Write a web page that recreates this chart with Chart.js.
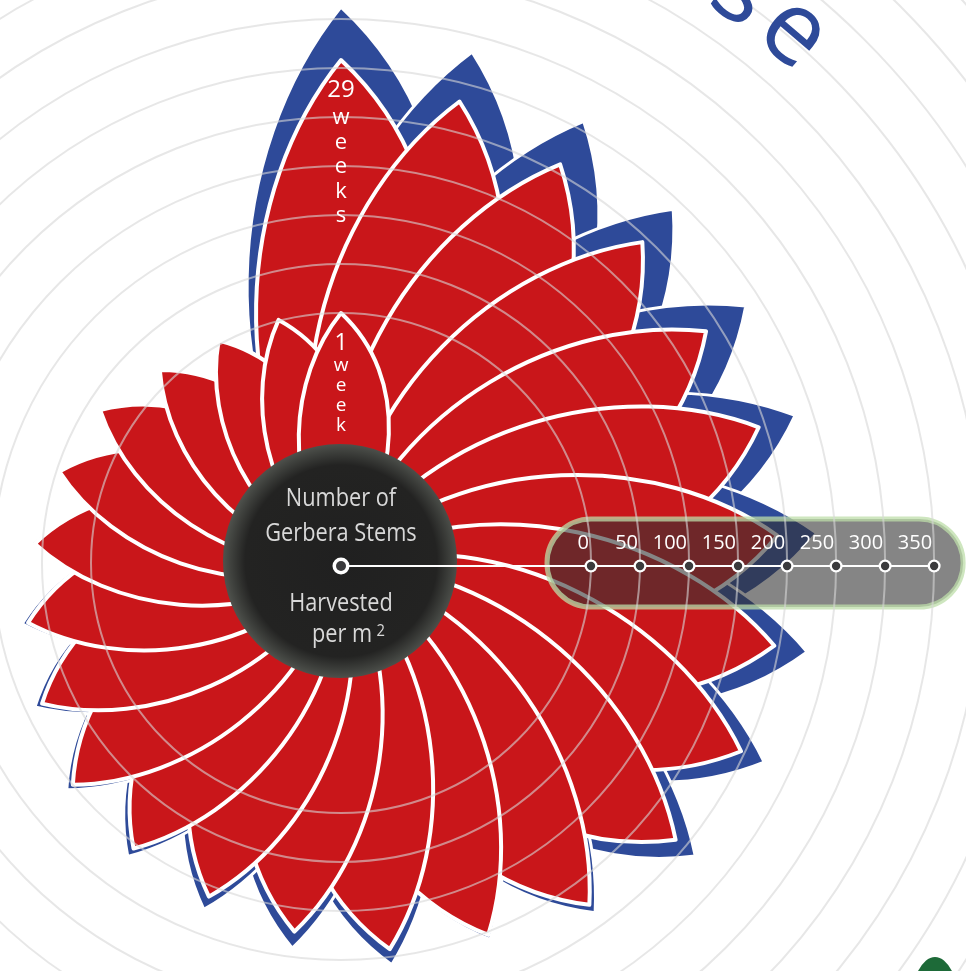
<!DOCTYPE html>
<html>
<head>
<meta charset="utf-8">
<script src="https://cdn.jsdelivr.net/npm/chart.js@4.4.1/dist/chart.umd.min.js"></script>
<style>
  html, body { margin: 0; padding: 0; background: #fff; width: 966px; height: 971px; overflow: hidden; }
  #wrap { position: absolute; left: -559px; top: -337px; width: 1800px; height: 1800px; }
</style>
</head>
<body>
<div id="wrap"><canvas id="flower" width="1800" height="1800"></canvas></div>
<script>
/* Gerbera stems flower: one petal per harvest week, blue petals sit behind the red ones */
const weeks = [1, 2, 3, 4, 5, 6, 7, 8, 9, 10, 11, 12, 13, 14, 15, 16, 17, 18, 19, 20, 21, 22, 23, 25, 27, 29];
const stemsRed = [0, 1, 4, 15, 36, 47, 58, 70, 82, 100, 105, 111, 124, 142, 153, 176, 188, 196, 195, 191, 193, 186, 194, 209, 231, 258];
const stemsBlue = [0, 2, 5, 17, 39, 50, 62, 76, 90, 108, 115, 125, 141, 158, 158, 186, 214, 222, 229, 231, 232, 234, 240, 259, 283, 312];
const rulerTicks = [0, 50, 100, 150, 200, 250, 300, 350];
const centreText = ['Number of', 'Gerbera Stems', 'Harvested', 'per m'];
const titleWord = 'Increase';

const RED = '#c9161a';
const BLUE = '#2e4a99';
const STEP = 360 / (weeks.length - 1);   // first and last week share the top

// weeks run anticlockwise, Chart.js lays arcs clockwise -> feed them reversed
const rev = (a) => a.slice().reverse();

// leaf shape from the hub to the tip, a little fuller on the clockwise side
function petal(ctx, cx, cy, ang, len) {
  const ux = Math.cos(ang), uy = Math.sin(ang);
  const nx = -uy, ny = ux;
  const p = (a, b) => [cx + (ux * a + nx * b) * len, cy + (uy * a + ny * b) * len];
  const tip = p(1, 0);
  ctx.beginPath();
  ctx.moveTo(cx, cy);
  ctx.bezierCurveTo(...p(0.3, -0.24), ...p(0.74, -0.21), ...tip);
  ctx.bezierCurveTo(...p(0.74, 0.28), ...p(0.3, 0.23), cx, cy);
  ctx.closePath();
}

function drawPetals(ctx, meta, fill, stroke) {
  meta.data.forEach((el) => {
    const ang = (el.startAngle + el.endAngle) / 2;
    petal(ctx, el.x, el.y, ang, el.outerRadius);
    ctx.fillStyle = fill;
    ctx.fill();
    ctx.lineWidth = stroke;
    ctx.strokeStyle = '#fff';
    ctx.lineJoin = 'round';
    ctx.stroke();
  });
}

function stackedLabel(ctx, el, num, word, numSize, letterSize, first, gap) {
  const ang = (el.startAngle + el.endAngle) / 2;
  const at = (r) => [el.x + Math.cos(ang) * r, el.y + Math.sin(ang) * r];
  ctx.fillStyle = '#fff';
  ctx.textAlign = 'center';
  ctx.textBaseline = 'middle';
  ctx.font = numSize + 'px "Open Sans"';
  let r = el.outerRadius - first;
  ctx.fillText(num, ...at(r));
  ctx.font = letterSize + 'px "Open Sans"';
  r -= gap * 1.15;
  for (const ch of word) {
    ctx.fillText(ch, ...at(r));
    r -= gap;
  }
}

const flowerPlugin = {
  id: 'flower',
  beforeDatasetDraw() {
    return false;
  },
  afterDatasetsDraw(chart) {
    const ctx = chart.ctx;
    const scale = chart.scales.r;
    const cx = scale.xCenter, cy = scale.yCenter;
    ctx.save();
    drawPetals(ctx, chart.getDatasetMeta(0), BLUE, 3);
    drawPetals(ctx, chart.getDatasetMeta(1), RED, 4);

    // centre disc
    const g = ctx.createRadialGradient(cx, cy - 2, 0, cx, cy - 2, 117);
    g.addColorStop(0, '#202020');
    g.addColorStop(0.82, '#232322');
    g.addColorStop(1, '#4d504b');
    ctx.beginPath();
    ctx.arc(cx - 1, cy - 2, 117, 0, Math.PI * 2);
    ctx.fillStyle = g;
    ctx.fill();

    // ruler pill, under the grid rings
    const x0 = cx + scale.getDistanceFromCenterForValue(rulerTicks[0]) - 44;
    const x1 = cx + scale.getDistanceFromCenterForValue(rulerTicks[rulerTicks.length - 1]) + 29;
    ctx.beginPath();
    ctx.roundRect(x0, cy - 44, x1 - x0, 88, 44);
    ctx.fillStyle = 'rgba(52,52,52,0.6)';
    ctx.fill();
    ctx.lineWidth = 5;
    ctx.strokeStyle = 'rgba(190,222,170,0.75)';
    ctx.stroke();
    ctx.restore();
  },
  afterDraw(chart) {
    const ctx = chart.ctx;
    const scale = chart.scales.r;
    const cx = scale.xCenter, cy = scale.yCenter;
    const ly = cy + 3;
    ctx.save();

    // ruler line and ticks
    const xEnd = cx + scale.getDistanceFromCenterForValue(rulerTicks[rulerTicks.length - 1]);
    ctx.beginPath();
    ctx.moveTo(cx, ly);
    ctx.lineTo(xEnd, ly);
    ctx.lineWidth = 2;
    ctx.strokeStyle = '#fff';
    ctx.stroke();
    const dot = (x, ro, ri) => {
      ctx.beginPath(); ctx.arc(x, ly, ro, 0, Math.PI * 2); ctx.fillStyle = '#fff'; ctx.fill();
      ctx.beginPath(); ctx.arc(x, ly, ri, 0, Math.PI * 2); ctx.fillStyle = '#3a3a3c'; ctx.fill();
    };
    dot(cx, 8.5, 5);
    ctx.font = '20px "Open Sans"';
    ctx.textAlign = 'right';
    ctx.textBaseline = 'alphabetic';
    rulerTicks.forEach((t) => {
      const x = cx + scale.getDistanceFromCenterForValue(t);
      dot(x, 6.5, 4.2);
      ctx.fillStyle = '#fff';
      ctx.fillText(String(t), x - 2, cy - 14);
    });

    // centre text
    ctx.fillStyle = '#d8d8d8';
    ctx.font = '25px "Open Sans"';
    const rows = [-57, -22, 48];
    rows.forEach((dy, i) => {
      ctx.save();
      ctx.translate(cx, cy + dy);
      ctx.scale(0.87, 1);
      ctx.textAlign = 'center';
      ctx.fillText(centreText[i], 0, 0);
      ctx.restore();
    });
    ctx.save();
    ctx.translate(cx - 29, cy + 79);
    ctx.scale(0.87, 1);
    ctx.textAlign = 'left';
    ctx.fillText(centreText[3], 0, 0);
    const w = ctx.measureText(centreText[3]).width;
    ctx.font = '17px "Open Sans"';
    ctx.fillText('2', w + 5, -6);
    ctx.restore();

    // week captions on the first and last petal
    const red = chart.getDatasetMeta(1).data;
    stackedLabel(ctx, red[0], String(weeks[weeks.length - 1]), 'weeks', 24, 22, 30, 24.5);
    stackedLabel(ctx, red[red.length - 1], String(weeks[0]), 'week', 23, 19, 30, 20);

    // title running round the flower
    ctx.fillStyle = BLUE;
    ctx.font = '500 102px "Open Sans"';
    ctx.textAlign = 'center';
    ctx.textBaseline = 'alphabetic';
    const rad = 668;
    let a = 40.5 * Math.PI / 180;
    const chars = titleWord.split('');
    for (let i = chars.length - 1; i >= 0; i--) {
      const wch = ctx.measureText(chars[i]).width + 10;
      if (i < chars.length - 1) a -= (wch / 2) / rad;
      ctx.save();
      ctx.translate(cx + Math.sin(a) * rad, cy - Math.cos(a) * rad);
      ctx.rotate(a);
      ctx.fillText(chars[i], 0, 0);
      ctx.restore();
      a -= (wch / 2) / rad;
    }

    // leaf poking in at the corner
    ctx.beginPath();
    ctx.ellipse(cx + 594, cy + 442, 24, 48, 0, 0, Math.PI * 2);
    ctx.fillStyle = '#1d6a38';
    ctx.fill();
    ctx.restore();
  }
};

new Chart(document.getElementById('flower'), {
  type: 'polarArea',
  data: {
    labels: rev(weeks).map((w) => w + (w === 1 ? ' week' : ' weeks')),
    datasets: [
      { label: 'Blue', data: rev(stemsBlue), backgroundColor: BLUE, angle: STEP },
      { label: 'Red', data: rev(stemsRed), backgroundColor: RED, angle: STEP }
    ]
  },
  options: {
    responsive: false,
    animation: false,
    events: [],
    layout: { padding: 0 },
    plugins: { legend: { display: false }, tooltip: { enabled: false } },
    scales: {
      r: {
        min: -255,
        max: 663,
        startAngle: -STEP / 2,
        ticks: { display: false, stepSize: 50 },
        grid: {
          z: 1,
          lineWidth: 2,
          color: (c) => (c.tick && c.tick.value >= 0 ? 'rgba(215,215,215,0.6)' : 'rgba(0,0,0,0)')
        }
      }
    }
  },
  plugins: [flowerPlugin]
});
</script>
</body>
</html>
